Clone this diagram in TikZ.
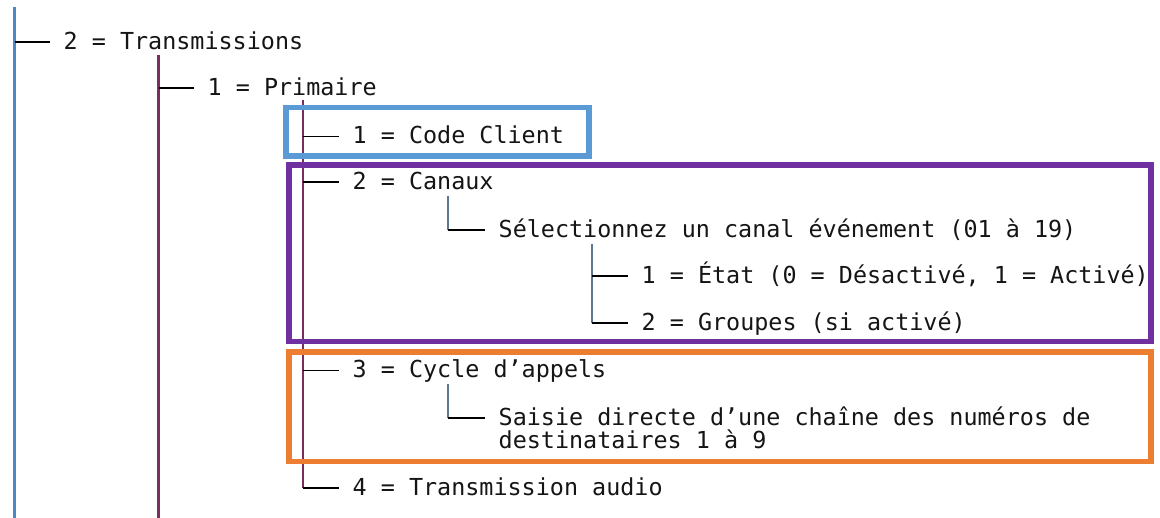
\documentclass[tikz,border=0pt]{standalone}
\usepackage{fontspec}
\setmonofont{DejaVu Sans Mono}
\definecolor{trunkblue}{HTML}{4F86C6}
\definecolor{trunkplum}{HTML}{7B2D5E}
\definecolor{subline}{HTML}{5E7594}
\definecolor{boxblue}{HTML}{5B9BD5}
\definecolor{boxpurple}{HTML}{7030A0}
\definecolor{boxorange}{HTML}{ED7D31}
\definecolor{inktext}{HTML}{151515}
\begin{document}
\begin{tikzpicture}[x=1pt,y=-1pt,
  lbl/.style={anchor=base west, inner sep=0pt, font=\ttfamily\fontsize{23.4}{23}\selectfont, text=inktext},
  hline/.style={line width=1.7pt, black},
  vblue/.style={line width=2.2pt, trunkblue},
  vplum/.style={line width=2.2pt, trunkplum},
  vsub/.style={line width=2.2pt, subline},
  annot/.style={line width=5.5pt}]
\useasboundingbox (0,0) rectangle (1160,518);
\fill[white] (0,0) rectangle (1160,518);

% texts
\node[lbl] (t1) at (63.5,49.5) {2 = Transmissions};
\node[lbl] (t2) at (207.5,95.5) {1 = Primaire};
\node[lbl] (t3) at (352.5,144) {1 = Code Client};
\node[lbl] (t4) at (352.5,189.5) {2 = Canaux};
\node[lbl] (t5) at (498.5,237.5) {Sélectionnez un canal événement (01 à 19)};
\node[lbl] (t6) at (641.5,283.5) {1 = État (0 = Désactivé, 1 = Activé)};
\node[lbl] (t7) at (641.5,330.5) {2 = Groupes (si activé)};
\node[lbl] (t8) at (352.5,378) {3 = Cycle d’appels};
\node[lbl] (t9) at (498.5,425.5) {Saisie directe d’une chaîne des numéros de};
\node[lbl] (t9b) at (498.5,448.5) {destinataires 1 à 9};
\node[lbl] (t10) at (352.5,495.5) {4 = Transmission audio};

% branch points
\foreach \n in {1,2,3,4,5,6,7,8,9,10}
  \coordinate (k\n) at ([yshift=7.5pt,xshift=-13.5pt]t\n.base west);

% vertical tree lines
\coordinate (v1top) at (14.5,7);   \coordinate (v1bot) at (14.5,518);
\coordinate (v2top) at (158.5,55); \coordinate (v2bot) at (158.5,518);
\coordinate (v3top) at (303,100);
\coordinate (v4top) at (448,196);
\coordinate (v5top) at (592,244);
\coordinate (v6top) at (448,384);

\draw[vblue] (v1top) -- (v1bot);
\draw[vplum] (v2top) -- (v2bot);
\draw[vplum] (v3top) -- (v3top |- k10);
\draw[vsub] (v4top) -- (v4top |- k5);
\draw[vsub] (v5top) -- (v5top |- k7);
\draw[vsub] (v6top) -- (v6top |- k9);

% horizontal branches
\draw[hline] (v1top |- k1) -- (k1);
\draw[hline] (v2top |- k2) -- (k2);
\draw[hline] (v3top |- k3) -- (k3);
\draw[hline] (v3top |- k4) -- (k4);
\draw[hline] (v4top |- k5) -- (k5);
\draw[hline] (v5top |- k6) -- (k6);
\draw[hline] (v5top |- k7) -- (k7);
\draw[hline] (v3top |- k8) -- (k8);
\draw[hline] (v6top |- k9) -- (k9);
\draw[hline] (v3top |- k10) -- (k10);

% highlight boxes
\draw[annot, boxblue] (286,107.5) rectangle (589,156);
\draw[annot, boxpurple] (289,165) rectangle (1151,341.5);
\draw[annot, boxorange] (289,352) rectangle (1151,461.5);
\end{tikzpicture}
\end{document}
